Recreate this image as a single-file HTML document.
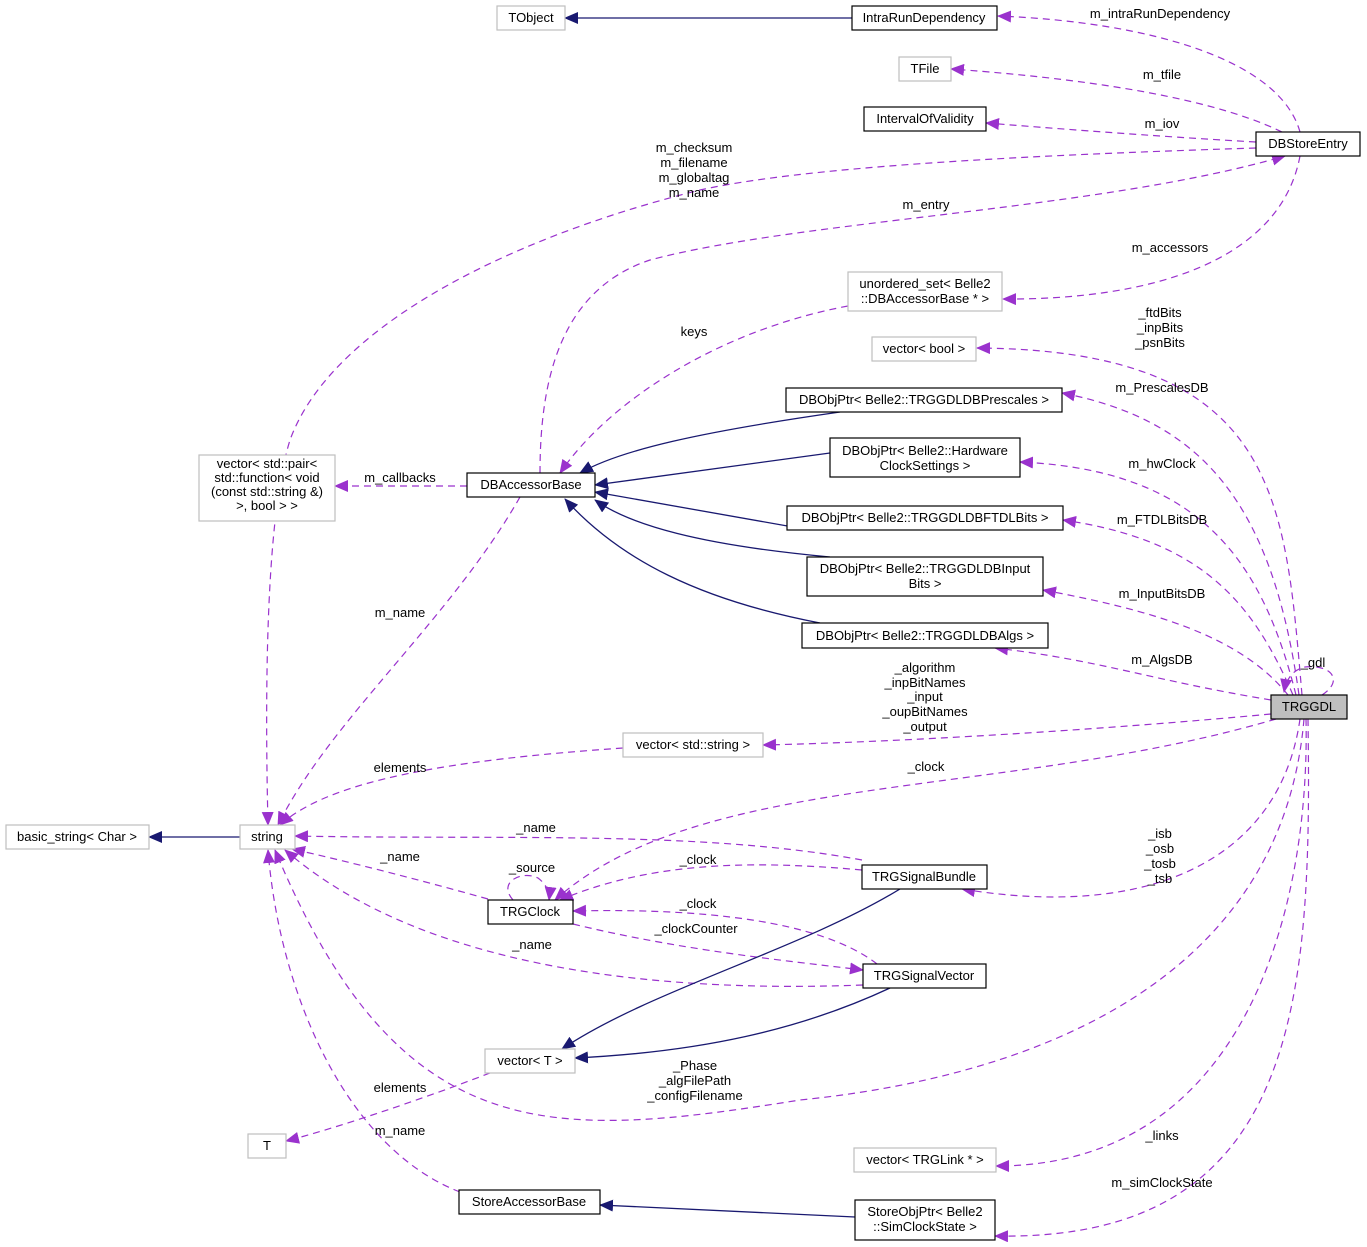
<!DOCTYPE html>
<html><head><meta charset="utf-8"><style>
html,body{margin:0;padding:0;background:#fff;}
svg{display:block;font-family:"Liberation Sans",Helvetica,Arial,sans-serif;}
text{font-size:13px;fill:#000;}
.n{fill:#fff;stroke:#000;stroke-width:1.2;}
.g{fill:#fff;stroke:#bfbfbf;stroke-width:1.2;}
.p{fill:none;stroke:#9a32cd;stroke-width:1.2;stroke-dasharray:7,5;}
.b{fill:none;stroke:#191970;stroke-width:1.3;}
</style></head><body>
<svg width="1367" height="1247" viewBox="0 0 1367 1247" xmlns="http://www.w3.org/2000/svg">
<defs>
<marker id="ap" markerUnits="userSpaceOnUse" markerWidth="14" markerHeight="12" refX="13" refY="6" orient="auto"><path d="M0,0 L14,6 L0,12 z" fill="#9a32cd"/></marker>
<marker id="ab" markerUnits="userSpaceOnUse" markerWidth="14" markerHeight="12" refX="13" refY="6" orient="auto"><path d="M0,0 L14,6 L0,12 z" fill="#191970"/></marker>
</defs>

<g marker-end="url(#ap)">
<path class="p" d="M1300,132 C1280,60 1150,22 998,16"/>
<path class="p" d="M1282,132 C1200,92 1050,76 951,69"/>
<path class="p" d="M1256,142 C1150,136 1050,128 986,123"/>
<path class="p" d="M1256,148 C1000,156 800,168 700,190 C500,240 330,330 290,440 C265,520 265,700 268,825"/>
<path class="p" d="M540,473 C540,380 560,290 650,260 C800,220 1100,210 1285,156"/>
<path class="p" d="M1300,156 C1280,262 1150,300 1003,299"/>
<path class="p" d="M848,306 C720,330 610,400 560,473"/>
<path class="p" d="M1302,695 C1285,500 1280,350 977,348"/>
<path class="p" d="M1299,695 C1272,500 1200,420 1062,393"/>
<path class="p" d="M1296,695 C1262,560 1200,470 1020,462"/>
<path class="p" d="M1293,695 C1252,600 1200,540 1063,520"/>
<path class="p" d="M1288,695 C1240,635 1150,610 1043,590"/>
<path class="p" d="M1271,700 C1150,680 1100,660 995,648"/>
<path class="p" d="M1322,695 C1345,680 1330,664 1305,667 C1292,670 1286,680 1284,692"/>
<path class="p" d="M1271,714 C1100,730 900,742 763,745"/>
<path class="p" d="M623,748 C450,760 330,780 280,825"/>
<path class="p" d="M1276,719 C1000,800 700,770 555,900"/>
<path class="p" d="M520,497 C450,620 330,720 278,825"/>
<path class="p" d="M467,486 L335,486"/>
<path class="p" d="M862,860 C700,830 500,840 295,836"/>
<path class="p" d="M862,870 C750,860 650,862 560,900"/>
<path class="p" d="M488,899 C420,880 350,862 292,849"/>
<path class="p" d="M513,900 C497,882 522,870 538,878 C546,884 550,892 549,900"/>
<path class="p" d="M877,964 C820,920 700,908 573,911"/>
<path class="p" d="M573,924 C680,950 780,960 863,970"/>
<path class="p" d="M863,985 C600,995 400,950 285,850"/>
<path class="p" d="M1304,719 C1280,1000 1000,1080 800,1100 C550,1140 400,1150 275,850"/>
<path class="p" d="M490,1073 C420,1100 330,1130 286,1141"/>
<path class="p" d="M460,1192 C350,1150 280,1000 268,850"/>
<path class="p" d="M1300,719 C1280,860 1150,920 962,889"/>
<path class="p" d="M1306,719 C1310,900 1250,1166 996,1166"/>
<path class="p" d="M1308,719 C1312,1000 1300,1242 995,1236"/>
</g>

<g marker-end="url(#ab)">
<path class="b" d="M852,18 L565,18"/>
<path class="b" d="M840,412 C700,432 620,450 580,473"/>
<path class="b" d="M830,453 L595,485"/>
<path class="b" d="M810,530 L595,492"/>
<path class="b" d="M830,557 C700,545 630,525 595,500"/>
<path class="b" d="M820,623 C700,600 620,560 565,499"/>
<path class="b" d="M240,837 L149,837"/>
<path class="b" d="M900,889 C800,950 650,990 562,1049"/>
<path class="b" d="M890,988 C800,1030 700,1052 575,1058"/>
<path class="b" d="M855,1217 L600,1205"/>
</g>

<rect class="g" x="497" y="6" width="68" height="24"/><text x="531" y="22" text-anchor="middle">TObject</text>
<rect class="n" x="852" y="6" width="145" height="24"/><text x="924" y="22" text-anchor="middle">IntraRunDependency</text>
<rect class="g" x="899" y="57" width="52" height="24"/><text x="925" y="73" text-anchor="middle">TFile</text>
<rect class="n" x="864" y="107" width="122" height="24"/><text x="925" y="123" text-anchor="middle">IntervalOfValidity</text>
<rect class="n" x="1256" y="132" width="104" height="24"/><text x="1308" y="148" text-anchor="middle">DBStoreEntry</text>
<rect class="g" x="848" y="272" width="154" height="39"/><text x="925" y="288" text-anchor="middle">unordered_set&lt; Belle2</text><text x="925" y="303" text-anchor="middle">::DBAccessorBase * &gt;</text>
<rect class="g" x="872" y="337" width="104" height="24"/><text x="924" y="353" text-anchor="middle">vector&lt; bool &gt;</text>
<rect class="n" x="786" y="388" width="276" height="24"/><text x="924" y="404" text-anchor="middle">DBObjPtr&lt; Belle2::TRGGDLDBPrescales &gt;</text>
<rect class="n" x="830" y="438" width="190" height="39"/><text x="925" y="455" text-anchor="middle">DBObjPtr&lt; Belle2::Hardware</text><text x="925" y="470" text-anchor="middle">ClockSettings &gt;</text>
<rect class="n" x="787" y="506" width="276" height="24"/><text x="925" y="522" text-anchor="middle">DBObjPtr&lt; Belle2::TRGGDLDBFTDLBits &gt;</text>
<rect class="n" x="807" y="557" width="236" height="39"/><text x="925" y="573" text-anchor="middle">DBObjPtr&lt; Belle2::TRGGDLDBInput</text><text x="925" y="588" text-anchor="middle">Bits &gt;</text>
<rect class="n" x="802" y="623" width="246" height="25"/><text x="925" y="640" text-anchor="middle">DBObjPtr&lt; Belle2::TRGGDLDBAlgs &gt;</text>
<rect x="1271" y="695" width="76" height="24" fill="#bfbfbf" stroke="#000" stroke-width="1.2"/><text x="1309" y="711" text-anchor="middle">TRGGDL</text>
<rect class="g" x="623" y="733" width="140" height="24"/><text x="693" y="749" text-anchor="middle">vector&lt; std::string &gt;</text>
<rect class="g" x="199" y="455" width="136" height="66"/><text x="267" y="468" text-anchor="middle">vector&lt; std::pair&lt;</text><text x="267" y="482" text-anchor="middle">std::function&lt; void</text><text x="267" y="496" text-anchor="middle">(const std::string &amp;)</text><text x="267" y="510" text-anchor="middle">&gt;, bool &gt; &gt;</text>
<rect class="n" x="467" y="473" width="128" height="24"/><text x="531" y="489" text-anchor="middle">DBAccessorBase</text>
<rect class="g" x="6" y="825" width="143" height="24"/><text x="77" y="841" text-anchor="middle">basic_string&lt; Char &gt;</text>
<rect class="g" x="240" y="825" width="55" height="24"/><text x="267" y="841" text-anchor="middle">string</text>
<rect class="n" x="862" y="865" width="125" height="24"/><text x="924" y="881" text-anchor="middle">TRGSignalBundle</text>
<rect class="n" x="488" y="900" width="85" height="24"/><text x="530" y="916" text-anchor="middle">TRGClock</text>
<rect class="n" x="863" y="964" width="123" height="24"/><text x="924" y="980" text-anchor="middle">TRGSignalVector</text>
<rect class="g" x="485" y="1049" width="90" height="24"/><text x="530" y="1065" text-anchor="middle">vector&lt; T &gt;</text>
<rect class="g" x="248" y="1134" width="38" height="24"/><text x="267" y="1150" text-anchor="middle">T</text>
<rect class="n" x="459" y="1190" width="141" height="24"/><text x="529" y="1206" text-anchor="middle">StoreAccessorBase</text>
<rect class="g" x="854" y="1148" width="142" height="24"/><text x="925" y="1164" text-anchor="middle">vector&lt; TRGLink * &gt;</text>
<rect class="n" x="855" y="1200" width="140" height="40"/><text x="925" y="1216" text-anchor="middle">StoreObjPtr&lt; Belle2</text><text x="925" y="1231" text-anchor="middle">::SimClockState &gt;</text>

<g text-anchor="middle">
<text x="1160" y="18">m_intraRunDependency</text>
<text x="1162" y="79">m_tfile</text>
<text x="1162" y="128">m_iov</text>
<text x="694" y="152">m_checksum</text><text x="694" y="167">m_filename</text><text x="694" y="182">m_globaltag</text><text x="694" y="197">m_name</text>
<text x="926" y="209">m_entry</text>
<text x="1170" y="252">m_accessors</text>
<text x="694" y="336">keys</text>
<text x="1160" y="317">_ftdBits</text><text x="1160" y="332">_inpBits</text><text x="1160" y="347">_psnBits</text>
<text x="1162" y="392">m_PrescalesDB</text>
<text x="1162" y="468">m_hwClock</text>
<text x="1162" y="524">m_FTDLBitsDB</text>
<text x="1162" y="598">m_InputBitsDB</text>
<text x="1162" y="664">m_AlgsDB</text>
<text x="1313" y="667">_gdl</text>
<text x="925" y="672">_algorithm</text><text x="925" y="687">_inpBitNames</text><text x="925" y="701">_input</text><text x="925" y="716">_oupBitNames</text><text x="925" y="731">_output</text>
<text x="400" y="482">m_callbacks</text>
<text x="400" y="617">m_name</text>
<text x="400" y="772">elements</text>
<text x="926" y="771">_clock</text>
<text x="536" y="832">_name</text>
<text x="1160" y="838">_isb</text><text x="1160" y="853">_osb</text><text x="1160" y="868">_tosb</text><text x="1160" y="883">_tsb</text>
<text x="698" y="864">_clock</text>
<text x="400" y="861">_name</text>
<text x="532" y="872">_source</text>
<text x="698" y="908">_clock</text>
<text x="696" y="933">_clockCounter</text>
<text x="532" y="949">_name</text>
<text x="695" y="1070">_Phase</text><text x="695" y="1085">_algFilePath</text><text x="695" y="1100">_configFilename</text>
<text x="400" y="1092">elements</text>
<text x="400" y="1135">m_name</text>
<text x="1162" y="1140">_links</text>
<text x="1162" y="1187">m_simClockState</text>
</g>
</svg>
</body></html>
